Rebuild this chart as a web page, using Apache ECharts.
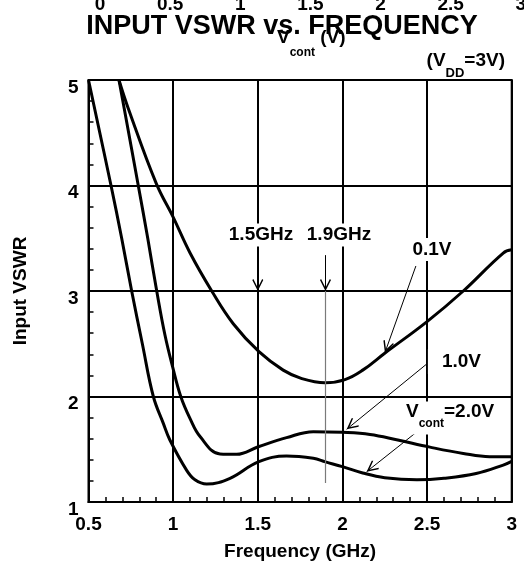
<!DOCTYPE html>
<html><head><meta charset="utf-8">
<script src="https://cdn.jsdelivr.net/npm/echarts/dist/echarts.min.js"></script>
<style>html,body{margin:0;padding:0;background:#fff}#c{width:524px;height:570px}</style>
</head><body><div id="c"></div><script>
// ---- data ----
const freqA = [0.68, 0.735, 0.9, 1.0, 1.1, 1.228, 1.355, 1.507, 1.65, 1.76, 1.897, 2.015, 2.12, 2.25, 2.5, 2.714, 2.95, 3.0];
const vswrA = [5.0, 4.73, 4.02, 3.70, 3.36, 3.0, 2.69, 2.425, 2.25, 2.17, 2.13, 2.16, 2.25, 2.41, 2.71, 3.0, 3.36, 3.39];
const freqB = [0.68, 0.711, 0.794, 0.85, 0.903, 0.952, 0.997, 1.045, 1.10, 1.159, 1.277, 1.375, 1.503, 1.67, 1.828, 2.0, 2.163, 2.32, 2.517, 2.714, 2.87, 3.0];
const vswrB = [5.0, 4.73, 4.0, 3.5, 3.0, 2.58, 2.28, 2.0, 1.79, 1.62, 1.455, 1.452, 1.524, 1.61, 1.667, 1.66, 1.64, 1.59, 1.52, 1.46, 1.43, 1.43];
const freqC = [0.5, 0.633, 0.696, 0.755, 0.818, 0.883, 0.942, 0.98, 1.08, 1.129, 1.198, 1.336, 1.503, 1.67, 1.828, 1.90, 2.0, 2.12, 2.25, 2.44, 2.6, 2.79, 2.95, 3.0];
const vswrC = [5.0, 4.0, 3.5, 3.0, 2.5, 2.0, 1.745, 1.59, 1.30, 1.21, 1.17, 1.225, 1.38, 1.436, 1.414, 1.38, 1.335, 1.275, 1.23, 1.21, 1.225, 1.27, 1.35, 1.385];

const xTicks = [0.5, 1, 1.5, 2, 2.5, 3];
const xTickLabels = ['0.5', '1', '1.5', '2', '2.5', '3'];
const yTicks = [1, 2, 3, 4, 5];
const yTickLabels = ['1', '2', '3', '4', '5'];
const topTicks = [0, 0.5, 1, 1.5, 2, 2.5, 3];
const topTickLabels = ['0', '0.5', '1', '1.5', '2', '2.5', '3'];

// annotation arrows (data coordinates)
const arrowFrom = [[1.5, 3.36], [1.9, 3.34], [2.434, 3.237], [2.527, 2.346], [2.429, 1.651]];
const arrowTo = [[1.5, 3.0], [1.9, 3.0], [2.251, 2.415], [2.025, 1.689], [2.143, 1.287]];
const markerFrom = [1.9, 3.0];
const markerTo = [1.9, 1.18];

// ---- chart ----
const FF = '"Liberation Sans", Arial, Helvetica, sans-serif';
const zip = (a, b) => a.map((v, i) => [v, b[i]]);
const lab = (ticks, labels) => v => { const i = ticks.findIndex(t => Math.abs(t - v) < 1e-6); return i >= 0 ? labels[i] : ''; };
const chevron = 'path://M0,18 L10,36 L8,37.8 L0,23.5 L-8,37.8 L-10,36 Z M0,-1.8 L0.1,-1.8 L0,-1.7 Z';

const arrows = arrowFrom.map((f, i) => [
  { coord: f, symbol: 'none' },
  { coord: arrowTo[i], symbol: chevron, symbolSize: [11, 24] }
]);
arrows.push([
  { coord: markerFrom, symbol: 'none', lineStyle: { color: '#7a7a7a', width: 1.2 } },
  { coord: markerTo, symbol: 'none' }
]);

const curveStyle = { color: '#000', width: 3 };
const mkSeries = (name, f, v) => ({
  name, type: 'line', data: zip(f, v), showSymbol: false, symbol: 'none',
  smooth: 0.4, lineStyle: curveStyle, itemStyle: { color: '#000' }, clip: true, z: 3
});

const sA = mkSeries('0.1V', freqA, vswrA);
sA.markLine = {
  silent: true, animation: false,
  label: { show: false },
  lineStyle: { color: '#000', width: 1, type: 'solid' },
  itemStyle: { color: '#000' },
  emphasis: { disabled: true },
  data: arrows
};

const chart = echarts.init(document.getElementById('c'), null, { renderer: 'canvas' });
chart.setOption({
  animation: false,
  backgroundColor: '#fff',
  title: {
    text: 'INPUT VSWR vs. FREQUENCY', left: 282, top: 13, padding: 0, textAlign: 'center',
    textStyle: { fontFamily: FF, fontWeight: 'bold', fontSize: 27, color: '#000' }
  },
  grid: [
    { left: 88.5, right: 12.3, top: 80, bottom: 68, show: true, borderColor: '#000', borderWidth: 2, containLabel: false, outerBoundsMode: 'none' },
    { left: 100, right: 3.3, top: 16, height: 1, show: false, containLabel: false, outerBoundsMode: 'none' }
  ],
  xAxis: [
    {
      type: 'value', gridIndex: 0, min: 0.5, max: 3, interval: 0.5,
      name: 'Frequency (GHz)', nameLocation: 'middle', nameGap: 40,
      nameTextStyle: { fontFamily: FF, fontWeight: 'bold', fontSize: 19, color: '#000' },
      axisLine: { show: true, lineStyle: { color: '#000', width: 2 } },
      axisTick: { show: true, inside: true, length: 5, lineStyle: { color: '#000', width: 1.5 } },
      minorTick: { show: true, splitNumber: 5, length: 5, lineStyle: { color: '#000', width: 1.5 } },
      splitLine: { show: true, lineStyle: { color: '#000', width: 2 } },
      axisLabel: { show: true, margin: 13, showMinLabel: true, showMaxLabel: true, hideOverlap: false,
        formatter: lab(xTicks, xTickLabels), fontFamily: FF, fontWeight: 'bold', fontSize: 19, color: '#000' }
    },
    {
      type: 'value', gridIndex: 1, position: 'top', min: 0, max: 3, interval: 0.5,
      axisLine: { show: false }, axisTick: { show: false }, splitLine: { show: false },
      axisLabel: { show: true, margin: 2, showMinLabel: true, showMaxLabel: true, hideOverlap: false,
        formatter: lab(topTicks, topTickLabels), fontFamily: FF, fontWeight: 'bold', fontSize: 19, color: '#000' }
    }
  ],
  yAxis: [
    {
      type: 'value', gridIndex: 0, min: 1, max: 5, interval: 1,
      name: 'Input VSWR', nameLocation: 'middle', nameGap: 58, nameRotate: 90,
      nameTextStyle: { fontFamily: FF, fontWeight: 'bold', fontSize: 19, color: '#000' },
      axisLine: { show: true, lineStyle: { color: '#000', width: 2 } },
      axisTick: { show: true, inside: true, length: 5, lineStyle: { color: '#000', width: 1.5 } },
      minorTick: { show: true, splitNumber: 5, length: 5, lineStyle: { color: '#000', width: 1.5 } },
      splitLine: { show: true, lineStyle: { color: '#000', width: 2 } },
      axisLabel: { show: true, margin: 10, verticalAlign: 'top', lineHeight: 15, showMinLabel: true, showMaxLabel: true, hideOverlap: false,
        formatter: lab(yTicks, yTickLabels), fontFamily: FF, fontWeight: 'bold', fontSize: 19, color: '#000' }
    },
    { type: 'value', gridIndex: 1, show: false, min: 0, max: 1 }
  ],
  series: [
    sA,
    mkSeries('1.0V', freqB, vswrB),
    mkSeries('2.0V', freqC, vswrC)
  ],
  graphic: [
    { type: 'text', z: 100, x: 261, y: 235,
      style: { text: '1.5GHz', font: 'bold 19px ' + FF, fill: '#000', align: 'center', verticalAlign: 'middle', textAlign: 'center', textVerticalAlign: 'middle', backgroundColor: '#fff', padding: [2, 2] } },
    { type: 'text', z: 100, x: 339, y: 235,
      style: { text: '1.9GHz', font: 'bold 19px ' + FF, fill: '#000', align: 'center', verticalAlign: 'middle', textAlign: 'center', textVerticalAlign: 'middle', backgroundColor: '#fff', padding: [2, 2] } },
    { type: 'text', z: 100, x: 432, y: 249.5,
      style: { text: '0.1V', font: 'bold 19px ' + FF, fill: '#000', align: 'center', verticalAlign: 'middle', textAlign: 'center', textVerticalAlign: 'middle', backgroundColor: '#fff', padding: [2, 2] } },
    { type: 'text', z: 100, x: 482, y: 361.5,
      style: { text: '1.0V', font: 'bold 19px ' + FF, fill: '#000', align: 'right', verticalAlign: 'middle', textAlign: 'right', textVerticalAlign: 'middle', backgroundColor: '#fff', padding: [3, 1, 3, 14] } },
    { type: 'text', z: 100, x: 404, y: 401.5,
      style: { text: '{m|V}{s|cont}{m|=2.0V}', fill: '#000', align: 'left', verticalAlign: 'top', textAlign: 'left', textVerticalAlign: 'top', backgroundColor: '#fff', padding: [1, 2, 5, 2],
        rich: { m: { font: 'bold 19px ' + FF, fill: '#000', verticalAlign: 'top' }, s: { font: 'bold 12px ' + FF, fill: '#000', verticalAlign: 'top', padding: [15, 0, 0, 0] } } } },
    { type: 'text', z: 100, x: 505, y: 51.5,
      style: { text: '{m|(V}{s|DD}{m|=3V)}', fill: '#000', align: 'right', verticalAlign: 'top', textAlign: 'right', textVerticalAlign: 'top',
        rich: { m: { font: 'bold 19px ' + FF, fill: '#000', verticalAlign: 'top' }, s: { font: 'bold 13px ' + FF, fill: '#000', verticalAlign: 'top', padding: [15.5, 0, 0, 0] } } } },
    { type: 'text', z: 100, x: 277, y: 28,
      style: { text: '{m|V}{s|cont}{m| (V)}', fill: '#000', align: 'left', verticalAlign: 'top', textAlign: 'left', textVerticalAlign: 'top',
        rich: { m: { font: 'bold 19px ' + FF, fill: '#000', verticalAlign: 'top' }, s: { font: 'bold 12px ' + FF, fill: '#000', verticalAlign: 'top', padding: [19, 0, 0, 0] } } } }
  ]
});
</script></body></html>
